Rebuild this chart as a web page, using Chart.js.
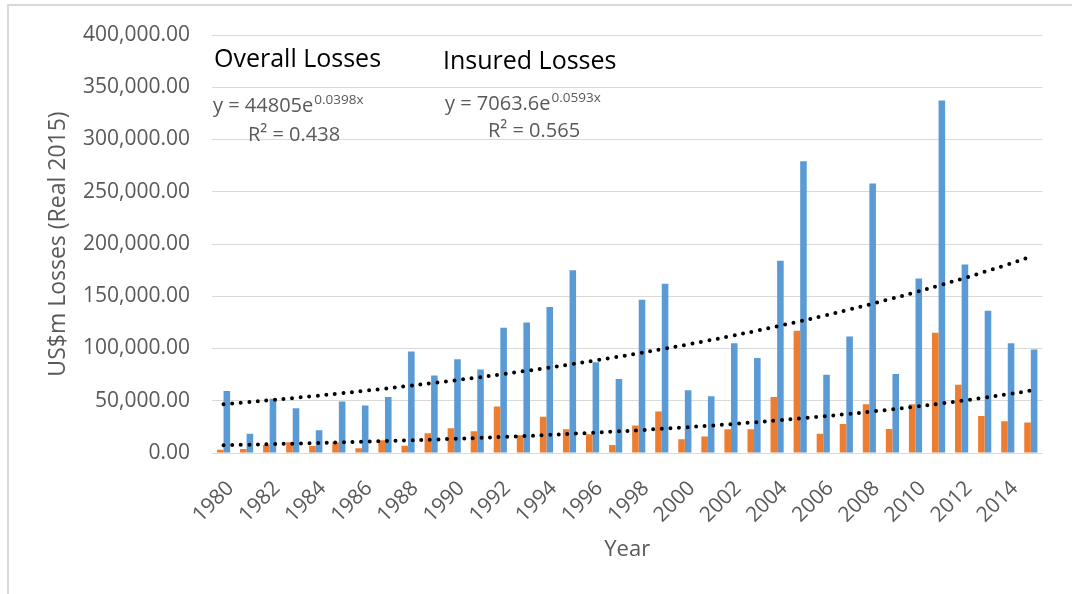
<!DOCTYPE html>
<html>
<head>
<meta charset="utf-8">
<script src="https://cdn.jsdelivr.net/npm/chart.js@4/dist/chart.umd.min.js"></script>
<style>
  html, body { margin: 0; padding: 0; background: #ffffff; }
  #wrap { position: relative; width: 1072px; height: 594px; }
</style>
</head>
<body>
<div id="wrap"><canvas id="c" width="1072" height="594"></canvas></div>
<script>
// ---- data ----
const years = ['1980','1981','1982','1983','1984','1985','1986','1987','1988','1989',
  '1990','1991','1992','1993','1994','1995','1996','1997','1998','1999',
  '2000','2001','2002','2003','2004','2005','2006','2007','2008','2009',
  '2010','2011','2012','2013','2014','2015'];

const insuredLosses = [3200, 3800, 8000, 10200, 6700, 10200, 4500, 12100, 7000, 18800,
  23600, 20800, 44400, 16900, 34800, 22700, 17900, 7700, 26200, 39600,
  13100, 15700, 22700, 22700, 53700, 117000, 18500, 27800, 46600, 23000,
  46600, 115000, 65200, 35500, 30400, 29100];

const overallLosses = [59400, 18500, 52000, 42800, 21700, 49200, 45400, 53700, 97100, 74100,
  89800, 79900, 119800, 124900, 139600, 174800, 86900, 70900, 146600, 162000,
  60000, 54300, 105100, 91000, 184000, 279200, 74800, 111500, 257800, 75700,
  167100, 337400, 180500, 136100, 105100, 99000];

const yTickValues = [0, 50000, 100000, 150000, 200000, 250000, 300000, 350000, 400000];

// exponential trendline coefficients, as printed on the chart
const overallFitA = 44805, overallFitB = 0.0398, overallR2 = '0.438';
const insuredFitA = 7063.6, insuredFitB = 0.0593, insuredR2 = '0.565';

const overallTrend = years.map((_, i) => overallFitA * Math.exp(overallFitB * (i + 1)));
const insuredTrend = years.map((_, i) => insuredFitA * Math.exp(insuredFitB * (i + 1)));

const FONT = "'Open Sans', 'Noto Sans', sans-serif";
const GREY = '#595959';
const GRID = '#d9d9d9';

const decorPlugin = {
  id: 'decor',
  beforeDraw(chart) {
    const ctx = chart.ctx;
    ctx.save();
    ctx.strokeStyle = GRID;
    ctx.lineWidth = 2;
    ctx.beginPath();
    ctx.moveTo(8, 594);
    ctx.lineTo(8, 5);
    ctx.lineTo(1072, 5);
    ctx.stroke();
    ctx.restore();
  },
  afterDraw(chart) {
    const ctx = chart.ctx;
    ctx.save();
    ctx.textAlign = 'left';
    ctx.textBaseline = 'alphabetic';
    // series titles
    ctx.fillStyle = '#000000';
    ctx.font = '25px ' + FONT;
    ctx.fillText('Overall Losses', 214, 67);
    ctx.fillText('Insured Losses', 443, 69);
    // equations
    function eq(x, y, a, b) {
      ctx.fillStyle = GREY;
      ctx.font = '20px ' + FONT;
      const main = 'y = ' + a + 'e';
      ctx.fillText(main, x, y);
      const w = ctx.measureText(main).width;
      ctx.font = '13.5px ' + FONT;
      ctx.fillText(String(b) + 'x', x + w + 1, y - 8);
    }
    eq(213, 112, '44805', overallFitB);
    eq(445, 110, '7063.6', insuredFitB);
    ctx.fillStyle = GREY;
    ctx.font = '20px ' + FONT;
    ctx.fillText('R\u00B2 = ' + overallR2, 248, 141);
    ctx.fillText('R\u00B2 = ' + insuredR2, 488, 137);
    ctx.restore();
  }
};

new Chart(document.getElementById('c'), {
  type: 'bar',
  data: {
    labels: years,
    datasets: [
      { label: 'Insured Losses', data: insuredLosses, backgroundColor: '#ED7D31', order: 2,
        categoryPercentage: 0.57, barPercentage: 1.0 },
      { label: 'Overall Losses', data: overallLosses, backgroundColor: '#5B9BD5', order: 2,
        categoryPercentage: 0.57, barPercentage: 1.0 },
      { type: 'line', label: 'Overall trend', data: overallTrend, borderColor: '#000000',
        borderWidth: 4, borderDash: [0, 8.6], borderCapStyle: 'round', pointRadius: 0,
        fill: false, tension: 0.4, order: 0 },
      { type: 'line', label: 'Insured trend', data: insuredTrend, borderColor: '#000000',
        borderWidth: 4, borderDash: [0, 8.6], borderCapStyle: 'round', pointRadius: 0,
        fill: false, tension: 0.4, order: 0 }
    ]
  },
  options: {
    responsive: false,
    animation: false,
    devicePixelRatio: 1,
    layout: { padding: { left: 0, right: 25, top: 35, bottom: 0 } },
    plugins: { legend: { display: false }, tooltip: { enabled: false } },
    scales: {
      x: {
        grid: { display: false, drawTicks: false },
        border: { display: true, color: GRID, width: 1 },
        ticks: {
          autoSkip: false, minRotation: 45, maxRotation: 45, padding: 23, labelOffset: 7,
          color: GREY, font: { family: FONT, size: 21 },
          callback: function (v, i) { return i % 2 === 0 ? years[i] : ''; }
        },
        title: { display: true, text: 'Year', color: GREY,
          font: { family: FONT, size: 22 }, padding: { top: 0, bottom: 31 } },
        afterFit(scale) { scale.height = 141; }
      },
      y: {
        min: 0, max: 400000,
        afterBuildTicks(scale) { scale.ticks = yTickValues.map(v => ({ value: v })); },
        grid: { color: GRID, lineWidth: 1, drawTicks: false },
        border: { display: false },
        ticks: {
          padding: 22, color: GREY, font: { family: FONT, size: 21 },
          callback: v => Number(v).toLocaleString('en-US', { minimumFractionDigits: 2, maximumFractionDigits: 2 })
        },
        title: { display: true, text: 'US$m Losses (Real 2015)', color: GREY,
          font: { family: FONT, size: 23 }, padding: { top: 45, bottom: 0 } },
        afterFit(scale) { scale.width = 212; }
      }
    }
  },
  plugins: [decorPlugin]
});
</script>
</body>
</html>
